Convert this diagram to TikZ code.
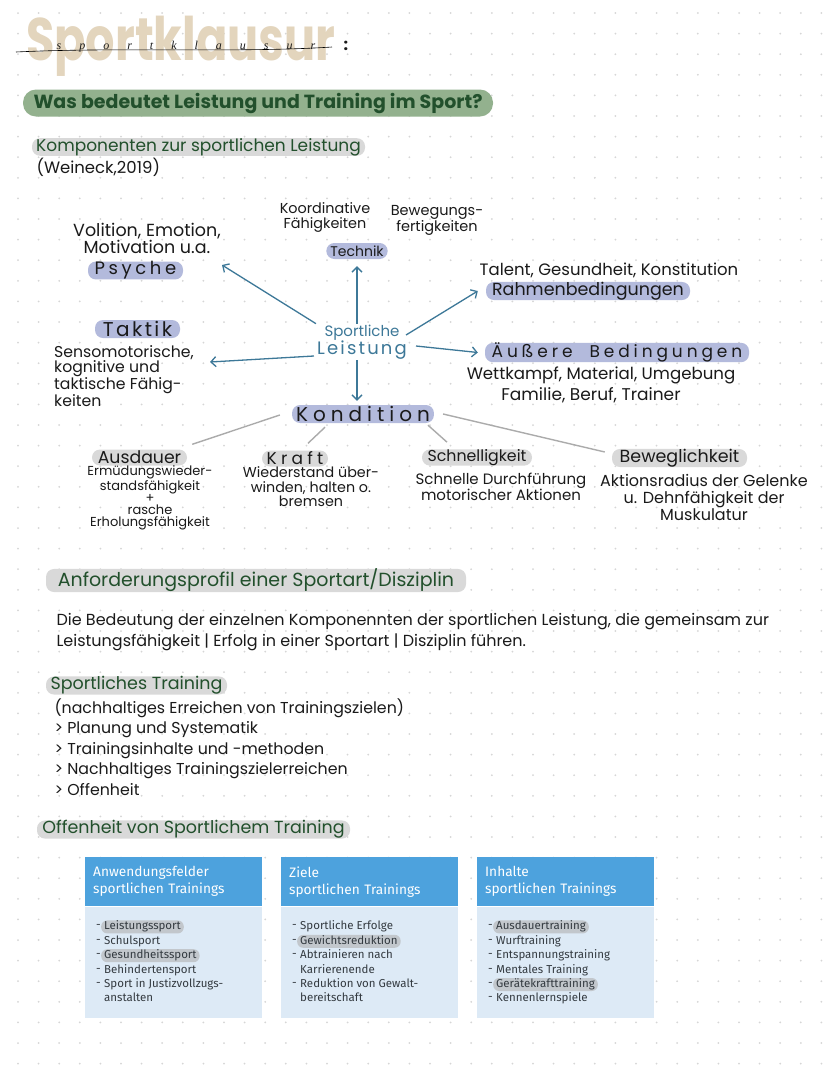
\documentclass[tikz,border=0pt]{standalone}
\usepackage{fontspec}
\setmainfont{Poppins}
\newfontfamily\boxfont{Fira Sans}
\newfontfamily\handfont{Liberation Serif}
\usetikzlibrary{arrows.meta,positioning,calc}

\definecolor{sage}{HTML}{93B18E}
\definecolor{darkgreen}{HTML}{22502C}
\definecolor{pillgrey}{HTML}{D9D9D9}
\definecolor{lavender}{HTML}{B3BADC}
\definecolor{arrowblue}{HTML}{3D7898}
\definecolor{linegrey}{HTML}{ABABAB}
\definecolor{titlebeige}{HTML}{E3D5BD}
\definecolor{hdrblue}{HTML}{4DA2DD}
\definecolor{bodyblue}{HTML}{DDEAF6}
\definecolor{hlgrey}{HTML}{C2C7CC}
\definecolor{boxink}{HTML}{333A40}
\definecolor{ink}{HTML}{1A1A1A}
\definecolor{dotgrey}{HTML}{D6D6D6}

\newcommand{\fs}[2]{\fontsize{#1}{#2}\selectfont}
\newcommand{\lsp}[2]{{\addfontfeature{LetterSpace=#1}#2}}

\begin{document}
\begin{tikzpicture}[x=1pt, y=-1pt,
    font=\fs{16}{18}, text=ink,
    hand/.style={align=center, inner sep=1pt},
    pill/.style={rounded corners=8pt, inner xsep=4pt, inner ysep=0pt, minimum height=16pt},
    lav/.style={pill, fill=lavender},
    grey/.style={pill, fill=pillgrey},
    ttl/.style={pill, fill=pillgrey, text=darkgreen, font=\fs{17.5}{19}},
    ar/.style={-{Straight Barb[length=5pt,width=10pt]}, draw=arrowblue, line width=1.3pt},
    ln/.style={draw=linegrey, line width=1.4pt},
    hdr/.style={anchor=north west, fill=hdrblue, text=white, font=\boxfont\fs{13.7}{17}, minimum width=177pt, minimum height=49pt, text width=161pt, inner xsep=8pt, align=left},
    bdy/.style={fill=bodyblue, minimum width=177pt, minimum height=111pt, inner sep=0pt},
    itm/.style={anchor=west, font=\boxfont\fs{11.5}{13}, text=boxink, inner xsep=3pt, inner ysep=1pt, text height=8.5pt, text depth=2.5pt},
    dsh/.style={label={[font=\boxfont\fs{11.5}{13}, text=boxink, inner sep=0pt, anchor=east]west:-}},
    hl/.style={dsh, fill=hlgrey, rounded corners=6pt},
    pl/.style={dsh},
    cont/.style={},
  ]
  \fill[white] (0,0) rectangle (828,1069);
  \useasboundingbox (0,0) rectangle (828,1069);
  % dotted paper
  \foreach \i in {0,...,40}
    \foreach \j in {0,...,51}
      \fill[dotgrey] (18+20.6*\i,13+20.6*\j) circle (1);

  % title
  \node[anchor=west, inner sep=0pt, text=titlebeige, font=\bfseries\fs{60}{60}] (title) at (26,46) {\scalebox{0.77}[1]{Sportklausur}};
  \draw[line width=0.6pt] (16,52) .. controls (120,47) and (240,53) .. (332,47);
  \node[font=\handfont\itshape\fs{12}{13}] (sub) at (186,47) {\addfontfeature{LetterSpace=150}sportklausur};
  \node[font=\bfseries\fs{16}{16}] (colon) at (346,46) {:};

  \node[pill, fill=sage, rounded corners=13pt, minimum width=470pt, minimum height=27pt, text=darkgreen, font=\bfseries\fs{19}{21}] (q) at (258,103) {Was bedeutet Leistung und Training im Sport?};
  \node[ttl, minimum width=333pt, font=\fs{17}{19}] (komp) at (198.5,147) {Komponenten zur sportlichen Leistung};
  \node[anchor=west, font=\fs{16.5}{18}] (wein) at (33,167) {(Weineck,2019)};

  % mind map
  \node[hand, text=arrowblue] (sl) at (362,342) {{\fs{15}{17}Sportliche}\\{\fs{18}{20}\lsp{12}{Leistung}}};
  \node[lav, minimum width=60pt, font=\fs{14}{16}] (technik) at (357,251) {Technik};
  \node[hand, font=\fs{14.4}{15}] (koord) at (325,217.5) {Koordinative\\Fähigkeiten};
  \node[hand, font=\fs{14.5}{16}] (bewfert) at (437,220) {Bewegungs-\\fertigkeiten};
  \node[lav, minimum width=95pt, font=\fs{18}{19}] (psyche) at (135.5,270.5) {\lsp{20}{Psyche}};
  \node[hand, font=\fs{17.5}{17}] (psytxt) at (147,238.5) {Volition, Emotion,\\Motivation u.a.};
  \node[lav, minimum width=85pt, minimum height=18pt, font=\fs{20}{21}] (taktik) at (137.5,329) {\lsp{12}{Taktik}};
  \node[hand, align=left, anchor=west, font=\fs{15.7}{14.5}] (taktxt) at (53,376.5) {Sensomotorische,\\kognitive und\\taktische Fähig-\\keiten};
  \node[lav, minimum width=204pt, minimum height=18pt, font=\fs{17.5}{19}] (rahmen) at (588,291) {Rahmenbedingungen};
  \node[hand, font=\fs{16.5}{18}] (rahtxt) at (609,270) {Talent, Gesundheit, Konstitution};
  \node[lav, minimum width=264pt, font=\fs{17}{18}] (aussere) at (617,352.5) {\lsp{23}{Äußere\ \ Bedingungen}};
  \node[hand, font=\fs{16.6}{18}] (wett) at (601,375) {Wettkampf, Material, Umgebung};
  \node[hand, font=\fs{17}{18}] (fam) at (591,395) {Familie, Beruf, Trainer};
  \node[lav, minimum width=140pt, minimum height=18pt, font=\fs{20}{21}] (kondition) at (363,414) {\lsp{25}{Kondition}};

  \coordinate (psyend) at (222,265);
  \coordinate (takend) at (210,362);
  \draw[ar] (sl.north -| technik) -- ([yshift=-7]technik.south);
  \draw[ar] (sl.north west) -- (psyend);
  \draw[ar] ($(sl.west)+(-2,14)$) -- (takend);
  \draw[ar] ($(sl.east)+(-2,-7)$) -- ([xshift=-8]rahmen.west);
  \draw[ar] ($(sl.east)+(8,4)$) -- ([xshift=-7]aussere.west);
  \draw[ar] (sl.south -| technik) -- ([yshift=4]kondition.north -| technik);

  % Kondition
  \node[grey, minimum width=95pt, font=\fs{17.3}{19}] (ausdauer) at (139.5,457.5) {Ausdauer};
  \node[hand, font=\fs{13}{12.2}] (ausdtxt) at (150,498) {Ermüdungswieder-\\standsfähigkeit\\+\\rasche\\Erholungsfähigkeit};
  \node[grey, minimum width=66pt, font=\fs{17}{18}] (kraft) at (295,458.5) {\lsp{25}{Kraft}};
  \node[hand, font=\fs{14.3}{14.5}] (krafttxt) at (311,487) {Wiederstand über-\\winden, halten o.\\bremsen};
  \node[grey, minimum width=110pt, font=\fs{15.8}{17}] (schnell) at (477,457.5) {Schnelligkeit};
  \node[hand, font=\fs{15}{13.5}] (schtxt) at (501,487) {Schnelle Durchführung\\motorischer Aktionen};
  \node[grey, minimum width=135pt, font=\fs{17.5}{18}] (beweg) at (679.5,458) {Beweglichkeit};
  \node[hand, font=\fs{16}{17}] (bewtxt) at (704,497) {Aktionsradius der Gelenke\\u. Dehnfähigkeit der\\Muskulatur};

  \draw[ln] ($(kondition.west)+(-12,1)$) -- ($(ausdauer.north east)+(5,-5)$);
  \draw[ln] ($(kondition.south)+(-38,4)$) -- ($(kraft.north)+(13,-7)$);
  \draw[ln] ($(kondition.south)+(65,2)$) -- ($(schnell.north)+(-30,-7)$);
  \draw[ln] ($(kondition.east)+(9,0)$) -- ($(beweg.west)+(-7,-6)$);

  % Anforderungsprofil, Training
  \node[ttl, minimum width=420pt, minimum height=19pt, font=\fs{19}{20}] (anf) at (256,580.5) {Anforderungsprofil einer Sportart/Disziplin};
  \node[anchor=west, align=left, font=\fs{16}{21}] (def) at (53,632.5) {Die Bedeutung der einzelnen Komponennten der sportlichen Leistung, die gemeinsam zur\\Leistungsfähigkeit | Erfolg in einer Sportart | Disziplin führen.};
  \node[ttl, minimum width=181pt] (sptr) at (136.5,685.5) {Sportliches Training};
  \node[anchor=west, align=left, font=\fs{15.8}{20.5}] (list) at (51,747) {(nachhaltiges Erreichen von Trainingszielen)\\> Planung und Systematik\\> Trainingsinhalte und -methoden\\> Nachhaltiges Trainingszielerreichen\\> Offenheit};
  \node[ttl, minimum width=313pt] (offen) at (193.5,829.5) {Offenheit von Sportlichem Training};

  % boxes
  \node[hdr] (h1) at (85,857) {Anwendungsfelder\\sportlichen Trainings};
  \node[bdy, below=0pt of h1] (b1) {};
  \node[hdr] (h2) at (281,857) {Ziele\\sportlichen Trainings};
  \node[bdy, below=0pt of h2] (b2) {};
  \node[hdr] (h3) at (477,857) {Inhalte\\sportlichen Trainings};
  \node[bdy, below=0pt of h3] (b3) {};

  \foreach \t/\s [count=\i] in {Leistungssport/hl, Schulsport/pl, Gesundheitssport/hl, Behindertensport/pl, Sport in Justizvollzugs-/pl, anstalten/cont}
    \node[itm, style=\s] (a\i) at (101,{912.5+14.4*\i}) {\t};
  \foreach \t/\s [count=\i] in {Sportliche Erfolge/pl, Gewichtsreduktion/hl, Abtrainieren nach/pl, Karrierenende/cont, Reduktion von Gewalt-/pl, bereitschaft/cont}
    \node[itm, style=\s] (z\i) at (297,{912.5+14.4*\i}) {\t};
  \foreach \t/\s [count=\i] in {Ausdauertraining/hl, Wurftraining/pl, Entspannungstraining/pl, Mentales Training/pl, Gerätekrafttraining/hl, Kennenlernspiele/pl}
    \node[itm, style=\s] (n\i) at (493,{912.5+14.4*\i}) {\t};
\end{tikzpicture}
\end{document}
